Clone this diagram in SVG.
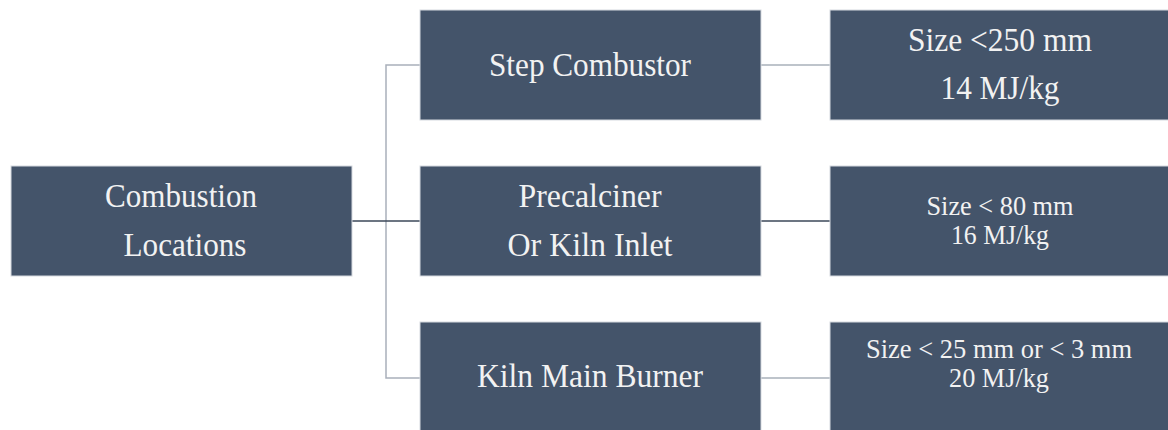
<svg xmlns="http://www.w3.org/2000/svg" width="1168" height="430" viewBox="0 0 1168 430">
<style>
.box{fill:#44546a;stroke:#d5d9df;stroke-width:1}
.t{font-family:"Liberation Serif","Times New Roman",serif;fill:#f2f2f2;text-anchor:middle}
.big{font-size:34px}
.small{font-size:27px}
.cl{fill:none;stroke:#a9b0ba;stroke-width:1.5}
.cd{fill:none;stroke:#3b4759;stroke-width:1.5}
</style>
<rect width="1168" height="430" fill="#ffffff"/>
<g id="connectors">
<path class="cl" d="M420 65 H386 V378 H420"/>
<path class="cd" d="M352 221 H420"/>
<path class="cl" d="M761 65 H830"/>
<path class="cd" d="M761 221 H830"/>
<path class="cl" d="M761 378 H830"/>
</g>
<g id="root">
<rect class="box" x="11" y="166" width="341" height="110"/>
<text class="t big" x="181" y="207" textLength="152" lengthAdjust="spacingAndGlyphs">Combustion</text>
<text class="t big" x="185" y="256" textLength="123" lengthAdjust="spacingAndGlyphs">Locations</text>
</g>
<g id="step">
<rect class="box" x="420" y="10" width="341" height="110"/>
<text class="t big" x="590" y="76" textLength="202" lengthAdjust="spacingAndGlyphs">Step Combustor</text>
</g>
<g id="precalciner">
<rect class="box" x="420" y="166" width="341" height="110"/>
<text class="t big" x="590" y="207" textLength="143" lengthAdjust="spacingAndGlyphs">Precalciner</text>
<text class="t big" x="590" y="256" textLength="165" lengthAdjust="spacingAndGlyphs">Or Kiln Inlet</text>
</g>
<g id="burner">
<rect class="box" x="420" y="322" width="341" height="112"/>
<text class="t big" x="590" y="387" textLength="226" lengthAdjust="spacingAndGlyphs">Kiln Main Burner</text>
</g>
<g id="spec-step">
<rect class="box" x="830" y="10" width="342" height="110"/>
<text class="t big" x="1000" y="51" textLength="184" lengthAdjust="spacingAndGlyphs">Size &lt;250 mm</text>
<text class="t big" x="1000" y="99" textLength="119" lengthAdjust="spacingAndGlyphs">14 MJ/kg</text>
</g>
<g id="spec-precalciner">
<rect class="box" x="830" y="166" width="342" height="110"/>
<text class="t small" x="1000" y="215" textLength="147" lengthAdjust="spacingAndGlyphs">Size &lt; 80 mm</text>
<text class="t small" x="1000" y="244" textLength="98" lengthAdjust="spacingAndGlyphs">16 MJ/kg</text>
</g>
<g id="spec-burner">
<rect class="box" x="830" y="322" width="342" height="112"/>
<text class="t small" x="999" y="358" textLength="266" lengthAdjust="spacingAndGlyphs">Size &lt; 25 mm or &lt; 3 mm</text>
<text class="t small" x="999" y="387" textLength="100" lengthAdjust="spacingAndGlyphs">20 MJ/kg</text>
</g>
</svg>
